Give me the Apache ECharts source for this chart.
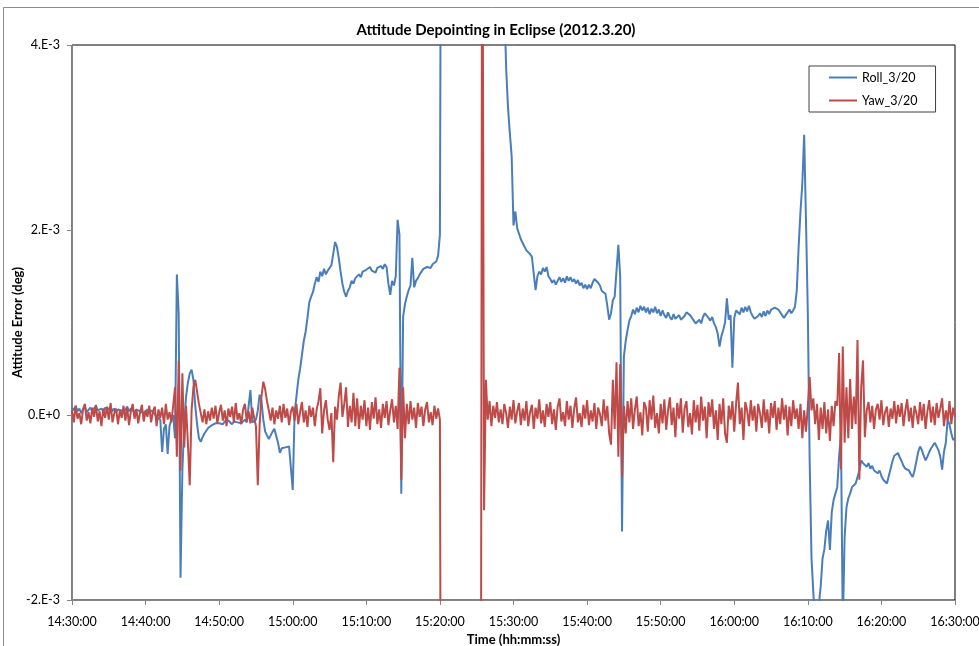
<!DOCTYPE html>
<html>
<head>
<meta charset="utf-8">
<script src="https://cdn.jsdelivr.net/npm/echarts@6/dist/echarts.min.js"></script>
<style>html,body{margin:0;padding:0;background:#fff;}#chart{width:979px;height:646px;}</style>
</head>
<body>
<div id="chart"></div>
<script>
// Time axis: minutes after 14:30:00; samples every 15 s, grouped in 5-minute blocks (20 samples each)
const xTickLabels = ['14:30:00','14:40:00','14:50:00','15:00:00','15:10:00','15:20:00','15:30:00','15:40:00','15:50:00','16:00:00','16:10:00','16:20:00','16:30:00'];
const yTickLabels = ['-2.E-3','0.E+0','2.E-3','4.E-3']; // for -2, 0, 2, 4 (x 1e-3 deg)
const seriesNames = ['Roll_3/20','Yaw_3/20'];
const blockMinutes = 5;
const sampleMinutes = 0.25;

// Roll attitude error, in units of 1e-3 deg (null = no data)
const rollBlocks = [
 [0.08,0.05,0.10,0.04,0.07,0.02,0.06,0.09,0.03,0.05,0.08,0.04,0.06,0.10,0.05,0.03,0.07,0.04,0.08,0.05],
 [0.06,0.09,0.04,0.07,0.03,0.06,0.08,0.05,0.02,0.06,0.09,0.04,0.07,0.05,0.03,0.06,0.08,0.04,0.05,0.02],
 [0.04,0.06,0.02,0.05,0.03,0.01,-0.02,0.00,-0.05,-0.40,-0.15,-0.10,-0.42,-0.12,-0.05,0.00,-0.25,1.52,1.10,-1.76],
 [-0.60,-0.10,0.20,0.35,0.45,0.49,0.38,0.10,-0.10,-0.25,-0.29,-0.24,-0.20,-0.17,-0.14,-0.13,-0.11,-0.12,-0.09,-0.10],
 [-0.09,-0.08,-0.10,-0.07,-0.09,-0.06,-0.08,-0.10,-0.07,-0.05,-0.08,-0.06,-0.09,-0.07,-0.05,-0.08,-0.06,0.27,-0.08,-0.10],
 [-0.05,0.05,0.22,0.15,-0.05,-0.18,-0.22,-0.26,-0.22,-0.18,-0.15,-0.17,-0.30,-0.41,-0.36,-0.38,-0.35,-0.37,-0.34,-0.36],
 [-0.81,0.02,0.20,0.38,0.50,0.65,0.80,0.90,1.05,1.22,1.28,1.33,1.42,1.49,1.44,1.55,1.50,1.58,1.52,1.56],
 [1.55,1.62,1.74,1.87,1.82,1.70,1.55,1.42,1.33,1.28,1.34,1.38,1.45,1.42,1.48,1.46,1.52,1.49,1.55,1.53],
 [1.57,1.55,1.60,1.56,1.58,1.54,1.59,1.57,1.61,1.58,1.63,1.60,1.42,1.30,1.45,1.40,1.50,2.11,1.95,-0.85],
 [1.06,1.20,1.28,1.35,1.40,1.70,1.38,1.45,1.48,1.52,1.55,1.58,1.56,1.60,1.62,1.59,1.63,1.61,1.66,1.72],
 [1.95,9.0,null,null,null,null,null,null,null,null,null,null,null,null,null,null,null,null,null,null],
 [null,null,null,null,null,null,null,null,null,null,null,null,null,null,null,4.50,3.75,3.33,3.05,2.80],
 [2.05,2.20,2.02,1.96,1.90,1.86,1.84,1.78,1.80,1.74,1.71,1.73,1.35,1.50,1.55,1.52,1.59,1.55,1.60,1.50],
 [1.47,1.43,1.46,1.41,1.45,1.49,1.44,1.48,1.43,1.50,1.45,1.49,1.44,1.47,1.42,1.46,1.40,1.43,1.37,1.41],
 [1.36,1.41,1.37,1.43,1.47,1.49,1.43,1.40,1.34,1.36,1.31,1.18,1.03,1.10,1.24,1.28,1.30,1.84,1.50,-1.26],
 [0.63,0.80,0.92,1.02,1.07,1.14,1.09,1.16,1.11,1.18,1.13,1.17,1.11,1.16,1.09,1.15,1.11,1.17,1.10,1.14],
 [1.07,1.13,1.08,1.05,1.11,1.06,1.03,1.09,1.04,1.02,1.08,1.03,1.01,1.07,1.11,1.13,1.08,1.05,1.02,0.99],
 [0.97,1.03,0.99,1.06,1.10,1.12,1.05,1.02,1.06,0.99,0.95,0.88,0.74,0.85,0.92,1.00,1.26,1.03,1.08,0.51],
 [1.05,1.13,1.15,1.09,1.16,1.11,1.17,1.12,1.18,1.11,1.07,1.04,1.02,1.07,1.10,1.06,1.12,1.07,1.13,1.09],
 [1.14,1.12,1.16,1.17,1.14,1.12,1.08,1.05,1.08,1.11,1.14,1.10,1.13,1.17,1.35,1.82,2.20,2.50,3.03,2.10],
 [1.10,-0.50,-1.55,-1.92,-2.30,-2.20,-2.05,-1.85,-1.55,-1.45,-1.25,-1.14,-1.46,-1.05,-0.92,-0.85,-0.78,-0.45,-0.20,-2.30],
 [-1.32,-1.00,-0.90,-0.85,-0.78,-0.80,-0.74,-0.72,-0.60,-0.49,-0.52,-0.50,-0.56,-0.52,-0.58,-0.55,-0.60,-0.58,-0.63,-0.60],
 [-0.66,-0.70,-0.68,-0.74,-0.66,-0.58,-0.50,-0.44,-0.42,-0.41,-0.46,-0.50,-0.55,-0.58,-0.59,-0.60,-0.64,-0.67,-0.60,-0.50],
 [-0.40,-0.34,-0.38,-0.44,-0.49,-0.45,-0.40,-0.36,-0.33,-0.30,-0.32,-0.38,-0.45,-0.59,-0.40,-0.30,-0.05,-0.10,-0.20,-0.27],
 [-0.25]
];

// Yaw attitude error, in units of 1e-3 deg (null = no data)
const yawBlocks = [
 [0.05,-0.08,0.10,-0.04,0.02,-0.10,0.06,0.12,-0.06,0.03,-0.09,0.08,-0.02,0.11,-0.07,0.04,-0.12,0.07,-0.03,0.09],
 [-0.05,0.13,-0.08,0.02,0.07,-0.10,0.05,-0.03,0.10,-0.06,0.08,-0.11,0.04,0.12,-0.04,0.06,-0.09,0.03,0.11,-0.07],
 [0.05,-0.02,0.10,-0.08,0.04,0.09,-0.12,0.06,-0.03,0.08,-0.10,0.12,-0.05,0.03,-0.08,0.10,0.30,-0.45,0.59,-0.60],
 [0.45,-0.35,0.10,-0.30,-0.76,0.05,0.30,0.38,0.25,0.12,0.02,-0.08,0.06,-0.10,0.04,-0.06,0.08,-0.04,0.10,-0.09],
 [0.03,0.11,-0.06,0.05,-0.12,0.07,-0.02,0.09,-0.08,0.13,-0.05,0.02,-0.10,0.06,0.12,-0.07,0.04,-0.09,0.08,-0.03],
 [-0.12,-0.76,-0.10,0.20,0.36,0.28,0.15,0.05,-0.06,0.08,-0.10,0.05,-0.04,0.10,-0.08,0.12,-0.03,0.07,-0.11,0.04],
 [0.09,-0.06,0.12,-0.10,0.03,0.14,-0.08,0.05,-0.13,0.10,-0.02,0.08,-0.12,0.06,0.15,0.29,-0.20,0.05,0.16,-0.05],
 [-0.16,0.02,-0.51,0.09,-0.05,0.20,0.35,-0.02,0.12,0.30,-0.13,0.10,-0.08,0.24,-0.12,0.18,-0.15,0.10,-0.05,0.16],
 [-0.12,0.08,-0.16,0.14,-0.04,0.19,-0.10,0.06,-0.14,0.12,-0.03,0.15,-0.11,0.05,0.17,-0.08,0.10,-0.15,0.51,-0.70],
 [0.30,-0.25,0.12,-0.10,0.15,-0.05,0.08,-0.14,0.13,-0.02,0.09,-0.12,0.06,0.14,-0.08,0.03,-0.11,0.10,-0.04,0.07],
 [-0.05,-8.0,null,null,null,null,null,null,null,null,null,null,null,null,null,null,null,null,null,null],
 [null,null,-8.0,7.0,-1.03,0.38,-0.05,0.15,-0.12,0.10,-0.03,0.14,-0.08,0.06,-0.10,0.12,0.02,-0.14,0.09,-0.05],
 [0.16,-0.09,0.04,0.13,-0.11,0.07,-0.06,0.15,-0.12,0.03,0.11,-0.15,0.08,-0.04,0.17,-0.09,0.05,-0.13,0.12,-0.02],
 [0.14,-0.10,0.06,-0.16,0.09,0.18,-0.07,0.03,-0.12,0.15,-0.05,0.10,-0.14,0.07,0.19,-0.08,0.02,-0.13,0.11,-0.04],
 [0.16,-0.11,0.05,-0.07,0.13,-0.15,0.08,0.01,-0.12,0.17,-0.06,0.10,-0.20,-0.32,0.38,-0.15,0.57,-0.45,0.55,-0.67],
 [0.10,-0.20,0.15,-0.08,0.18,-0.15,0.06,0.20,-0.12,0.03,-0.22,0.14,0.08,-0.18,0.16,-0.05,0.21,-0.14,0.02,-0.20],
 [0.12,-0.09,0.17,-0.16,0.05,0.19,-0.11,0.08,-0.24,0.13,-0.04,0.18,-0.19,0.07,0.15,-0.13,0.02,-0.21,0.16,-0.08],
 [0.11,-0.17,0.20,-0.06,0.09,-0.25,0.14,-0.02,0.17,-0.15,0.05,-0.27,0.12,-0.10,0.18,-0.20,-0.30,0.10,-0.05,0.15],
 [-0.18,0.12,0.35,-0.10,0.08,-0.27,0.14,0.05,-0.12,0.16,-0.06,0.10,-0.18,0.12,0.02,-0.14,0.17,-0.08,0.06,-0.20],
 [0.13,-0.03,0.15,-0.16,0.08,-0.10,0.18,-0.05,0.11,-0.22,0.09,-0.12,0.16,-0.04,0.07,-0.15,0.12,-0.25,0.05,-0.18],
 [0.10,0.41,0.05,0.18,-0.10,0.12,-0.27,0.08,-0.15,0.14,-0.20,0.06,-0.28,0.10,-0.12,0.15,0.10,0.67,-0.59,0.74],
 [-0.30,0.30,-0.25,0.39,-0.15,0.20,-0.10,0.81,-0.70,0.30,0.59,-0.24,0.05,0.14,-0.08,0.10,-0.15,0.06,0.12,-0.05],
 [0.16,-0.11,0.03,0.09,-0.13,0.07,-0.04,0.15,-0.09,0.11,-0.02,0.13,-0.12,0.05,0.17,-0.07,0.08,-0.14,0.10,0.02],
 [-0.10,0.14,-0.06,0.12,-0.15,0.04,0.16,-0.08,0.09,-0.11,0.13,-0.03,0.07,0.18,-0.12,0.05,-0.06,0.15,-0.10,0.08],
 [-0.02]
];

function toPoints(blocks) {
  const pts = [];
  blocks.forEach((blk, k) => {
    blk.forEach((v, j) => {
      pts.push([k * blockMinutes + j * sampleMinutes, v]);
    });
  });
  return pts;
}

const FONT = 'Lato, "Liberation Sans", sans-serif';
const chart = echarts.init(document.getElementById('chart'), null, {renderer: 'canvas'});
chart.setOption({
  animation: false,
  backgroundColor: '#fff',
  title: {
    text: 'Attitude Depointing in Eclipse (2012.3.20)',
    left: 491, top: 18, textAlign: 'center',
    textStyle: {fontFamily: FONT, fontSize: 15, fontWeight: 'bold', color: '#000'}
  },
  graphic: [{
    type: 'rect', silent: true, z: -1,
    shape: {x: 3.5, y: 7.5, width: 1000, height: 700},
    style: {fill: null, stroke: '#8c8c8c', lineWidth: 1}
  }],
  legend: {
    orient: 'vertical', left: 809, top: 66,
    data: seriesNames,
    icon: 'rect', itemWidth: 28, itemHeight: 2, itemGap: 10,
    borderColor: '#404040', borderWidth: 1, borderRadius: 0,
    padding: [5, 18, 5, 20],
    textStyle: {fontFamily: FONT, fontSize: 12.5, color: '#000', lineHeight: 12}
  },
  grid: {
    left: 72, right: 24, top: 45, bottom: 46,
    outerBoundsMode: 'none', containLabel: false,
    show: true, borderColor: '#000', borderWidth: 1, backgroundColor: '#fff'
  },
  xAxis: {
    type: 'value', min: 0, max: 120, interval: 10,
    name: 'Time (hh:mm:ss)', nameLocation: 'middle', nameGap: 33, nameMoveOverlap: false,
    nameTextStyle: {fontFamily: FONT, fontSize: 13, fontWeight: 'bold', color: '#000'},
    axisLine: {show: true, onZero: false, lineStyle: {color: '#868686', width: 1}},
    axisTick: {show: true, length: 5, lineStyle: {color: '#868686'}},
    axisLabel: {margin: 15, fontFamily: FONT, fontSize: 12.5, color: '#000',
      formatter: v => xTickLabels[Math.round(v / 10)]},
    splitLine: {show: false}
  },
  yAxis: {
    type: 'value', min: -2, max: 4, interval: 2,
    name: 'Attitude Error (deg)', nameLocation: 'middle', nameGap: 48, nameRotate: 90, nameMoveOverlap: false,
    nameTextStyle: {fontFamily: FONT, fontSize: 13, fontWeight: 'bold', color: '#000'},
    axisLine: {show: true, onZero: false, lineStyle: {color: '#868686', width: 1}},
    axisTick: {show: true, length: 5, lineStyle: {color: '#868686'}},
    axisLabel: {margin: 12, fontFamily: FONT, fontSize: 12.5, color: '#000',
      formatter: v => yTickLabels[Math.round((v + 2) / 2)]},
    splitLine: {show: false}
  },
  series: [
    {name: seriesNames[0], type: 'line', data: toPoints(rollBlocks), showSymbol: false, symbol: 'none',
     connectNulls: false, clip: true, color: '#4A7EBB', lineStyle: {width: 2, color: '#4A7EBB'}},
    {name: seriesNames[1], type: 'line', data: toPoints(yawBlocks), showSymbol: false, symbol: 'none',
     connectNulls: false, clip: true, color: '#BE4B48', lineStyle: {width: 2, color: '#BE4B48'}}
  ]
});
</script>
</body>
</html>
